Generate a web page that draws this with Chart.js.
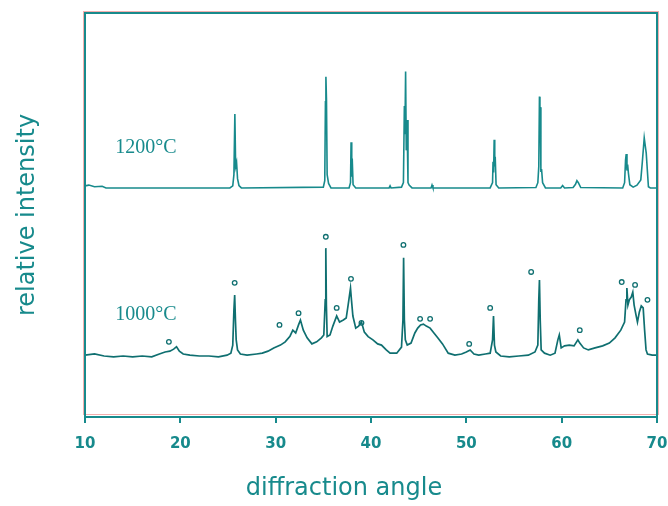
<!DOCTYPE html>
<html>
<head>
<meta charset="utf-8">
<script src="https://cdn.jsdelivr.net/npm/chart.js@4.4.1/dist/chart.umd.min.js"></script>
<style>
  body { margin: 0; background: #fff; }
  #wrap { width: 668px; height: 506px; position: relative; }
</style>
</head>
<body>
<div id="wrap"><canvas id="xrd"></canvas></div>
<script>
// x ticks (diffraction angle, degrees)
var xTicks = [10, 20, 30, 40, 50, 60, 70];

// 1200 C pattern (angle, relative intensity)
var angles1200 = [10, 10.4, 11.0, 11.8, 12.2, 25.2, 25.5, 25.62, 25.72, 25.8, 25.9, 26.0, 26.15, 26.4,
  35.0, 35.15, 35.22, 35.27, 35.33, 35.4, 35.55, 35.8, 37.7, 37.85, 37.91, 37.98, 38.03, 38.12, 38.4,
  41.9, 42.0, 42.1, 43.2, 43.4, 43.5, 43.56, 43.63, 43.7, 43.78, 43.88, 44.0, 44.3,
  46.3, 46.4, 46.5, 52.5, 52.75, 52.8, 52.86, 52.92, 52.98, 53.03, 53.12, 53.4,
  57.3, 57.5, 57.6, 57.67, 57.72, 57.76, 57.82, 57.9, 58.0, 58.3,
  59.9, 60.1, 60.3, 61.2, 61.45, 61.6, 61.75, 62.0,
  66.4, 66.6, 66.7, 66.77, 66.85, 66.92, 67.0, 67.15, 67.5, 67.9, 68.3, 68.45, 68.66, 68.87, 69.1, 69.3, 70];
var int1200 = [57.2, 57.4, 57.0, 57.1, 56.7, 56.7, 57.2, 60, 75, 62, 63, 59, 57.3, 56.7,
  56.9, 58.5, 78, 84.2, 78.5, 60, 57.8, 56.7, 56.7, 58, 68, 59.5, 64, 57.5, 56.7,
  56.7, 57.2, 56.7, 56.9, 58, 77, 70, 85.5, 66, 73.5, 58, 57.4, 56.7,
  56.7, 57.4, 56.7, 56.7, 58, 63.2, 60.5, 68.6, 62, 64.4, 57.5, 56.7,
  56.8, 58, 62, 79.3, 68, 76.7, 61, 61.1, 58, 56.7,
  56.7, 57.3, 56.7, 56.8, 57.6, 58.5, 58, 56.8,
  56.7, 58, 63.6, 65.1, 61, 62.5, 60.4, 57.5, 56.9, 57.4, 58.7, 62.8, 69.1, 65.3, 57, 56.7, 56.7];

// 1000 C pattern
var angles1000 = [10, 11, 12, 13, 14, 15, 16, 17, 17.8, 18.4, 18.9, 19.3, 19.6, 19.9, 20.3, 21, 22, 23, 24, 24.9,
  25.3, 25.5, 25.62, 25.7, 25.78, 25.86, 26.0, 26.3, 27, 28, 28.6, 29.2, 29.8, 30.5, 31.0, 31.5, 31.8, 32.1,
  32.4, 32.6, 32.9, 33.3, 33.8, 34.3, 34.8, 35.05, 35.2, 35.26, 35.32, 35.4, 35.7, 36.0, 36.4, 36.7, 37.1,
  37.4, 37.6, 37.85, 37.95, 38.1, 38.4, 38.7, 39.0, 39.3, 39.7, 40.2, 40.7, 41.1, 41.6, 42.0, 42.7, 43.2,
  43.35, 43.42, 43.5, 43.6, 43.8, 44.2, 44.6, 44.9, 45.2, 45.5, 45.8, 46.2, 46.6, 47.0, 47.5, 48.1, 48.8,
  49.5, 50.0, 50.4, 50.8, 51.3, 52.0, 52.5, 52.75, 52.85, 52.95, 53.1, 53.6, 54.5, 55.5, 56.5, 57.2, 57.5,
  57.6, 57.67, 57.75, 57.85, 58.2, 58.8, 59.3, 59.6, 59.75, 59.95, 60.3, 60.8, 61.3, 61.7, 61.9, 62.3, 62.8,
  63.5, 64.3, 65.0, 65.6, 66.2, 66.6, 66.75, 66.84, 66.95, 67.1, 67.3, 67.46, 67.6, 67.8, 67.95, 68.15,
  68.35, 68.55, 68.7, 68.85, 69.0, 69.5, 70];
var int1000 = [15.3, 15.6, 15.1, 14.9, 15.1, 14.9, 15.1, 14.9, 15.6, 16.1, 16.3, 16.8, 17.4, 16.3, 15.6, 15.3, 15.1, 15.1, 14.9, 15.3,
  15.8, 17.8, 26.5, 30.2, 24.0, 19.1, 16.6, 15.6, 15.3, 15.6, 15.8, 16.3, 17.1, 17.8, 18.6, 20.0, 21.5, 20.8,
  22.8, 24.0, 21.5, 19.6, 18.1, 18.6, 19.6, 20.3, 29.0, 41.8, 27.7, 19.9, 20.3, 22.5, 25.0, 23.5, 24.0,
  24.5, 27.7, 31.9, 29.0, 25.0, 22.0, 22.5, 23.5, 21.0, 19.9, 19.1, 18.1, 17.8, 16.6, 15.8, 15.8, 17.3,
  24.0, 39.4, 24.0, 19.1, 17.8, 18.3, 20.8, 22.0, 22.8, 23.0, 22.5, 22.0, 20.8, 19.6, 18.1, 15.8, 15.3,
  15.6, 16.1, 16.6, 15.6, 15.3, 15.6, 15.8, 19.1, 25.0, 17.8, 16.1, 15.1, 14.9, 15.1, 15.3, 16.1, 17.8,
  29.0, 33.9, 24.0, 16.6, 15.8, 15.3, 15.8, 19.1, 20.3, 17.1, 17.6, 17.8, 17.6, 19.1, 18.3, 17.1, 16.6,
  17.1, 17.6, 18.3, 19.6, 21.5, 23.5, 29.0, 31.9, 27.7, 29.0, 29.7, 30.9, 27.7, 25.2, 23.5, 26.0,
  27.5, 27.0, 21.5, 16.6, 15.6, 15.3, 15.3];

// phase markers above the 1000 C peaks
var markAngles = [18.8, 25.7, 30.4, 32.4, 35.26, 36.4, 37.9, 39.0, 43.4, 45.15, 46.2, 50.3, 52.5, 56.8, 61.9, 66.3, 67.7, 69.0];
var markInt = [18.6, 33.2, 22.8, 25.7, 44.6, 27.0, 34.2, 23.3, 42.6, 24.3, 24.3, 18.1, 27.0, 35.9, 21.5, 33.4, 32.7, 29.0];

var teal = '#178a8c';
var dark = '#0f6f70';

function pts(xs, ys) {
    var out = [];
    for (var i = 0; i < xs.length; i++) out.push({x: xs[i], y: ys[i]});
    return out;
}

// frame, x title and temperature labels
var framePlugin = {
    id: 'frame',
    afterDraw: function (chart) {
        var ctx = chart.ctx, a = chart.chartArea;
        var xs = chart.scales.x, ys = chart.scales.y;
        ctx.save();
        ctx.strokeStyle = 'rgba(235,120,120,0.6)';
        ctx.lineWidth = 1;
        ctx.strokeRect(a.left - 1.5, a.top - 1.5, a.right - a.left + 3, a.bottom - a.top - 1);
        ctx.strokeStyle = teal;
        ctx.lineWidth = 2;
        ctx.strokeRect(a.left, a.top, a.right - a.left, a.bottom - a.top);
        ctx.fillStyle = teal;
        ctx.textAlign = 'center';
        ctx.textBaseline = 'middle';
        ctx.font = '24px "DejaVu Sans"';
        ctx.fillText('diffraction angle', 344, 489);
        ctx.font = '20px "Liberation Serif"';
        ctx.fillText('1200°C', xs.getPixelForValue(16.4), ys.getPixelForValue(66.6));
        ctx.fillText('1000°C', xs.getPixelForValue(16.4), ys.getPixelForValue(25.2));
        ctx.restore();
    }
};

new Chart(document.getElementById('xrd'), {
    type: 'line',
    data: {
        datasets: [{
            label: '1200°C',
            data: pts(angles1200, int1200),
            borderColor: teal,
            borderWidth: 1.6,
            pointRadius: 0,
            tension: 0
        }, {
            label: '1000°C',
            data: pts(angles1000, int1000),
            borderColor: dark,
            borderWidth: 1.7,
            pointRadius: 0,
            tension: 0
        }, {
            type: 'scatter',
            label: 'markers',
            data: pts(markAngles, markInt),
            pointStyle: 'circle',
            pointRadius: 2.3,
            borderWidth: 1.3,
            borderColor: dark,
            backgroundColor: '#ffffff'
        }]
    },
    options: {
        responsive: true,
        maintainAspectRatio: false,
        animation: false,
        layout: { padding: { top: 13, right: 11, left: 0, bottom: 0 } },
        plugins: { legend: { display: false }, tooltip: { enabled: false } },
        scales: {
            x: {
                type: 'linear',
                min: 10,
                max: 70,
                afterBuildTicks: function (s) { s.ticks = xTicks.map(function (v) { return {value: v}; }); },
                afterFit: function (s) {
                    s.height = 89;
                    s.paddingLeft = 0;
                    s.paddingRight = 0;
                },
                border: { display: true, color: teal, width: 2 },
                grid: { drawOnChartArea: false, drawTicks: true, tickLength: 6, color: teal, lineWidth: 2 },
                ticks: {
                    color: teal,
                    padding: 12,
                    maxRotation: 0,
                    font: { family: 'DejaVu Sans', size: 15, weight: 'bold' }
                },
                title: { display: false }
            },
            y: {
                min: 0,
                max: 100,
                afterFit: function (s) { s.width = 85; },
                border: { display: false },
                grid: { display: false },
                ticks: { display: false },
                title: {
                    display: true,
                    text: 'relative intensity',
                    color: teal,
                    padding: { top: 13, bottom: 0 },
                    font: { family: 'DejaVu Sans', size: 24 }
                }
            }
        }
    },
    plugins: [framePlugin]
});
</script>
</body>
</html>
